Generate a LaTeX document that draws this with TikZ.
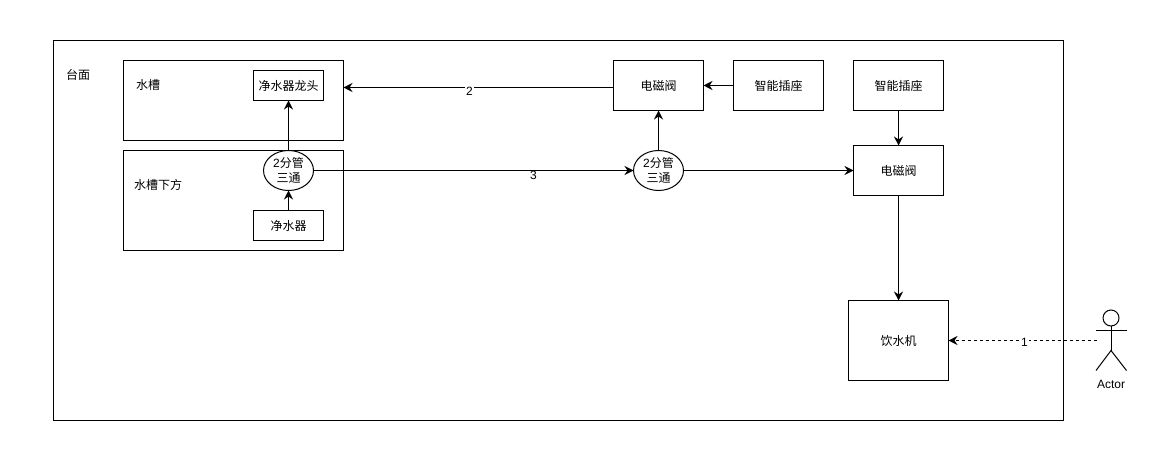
\documentclass[tikz,border=0pt]{standalone}
\usepackage{fontspec}
\setmainfont{Noto Sans CJK SC}
\newfontfamily\latinfont{Liberation Sans}
\usetikzlibrary{arrows.meta,positioning,calc,shapes.geometric}
\tikzset{
  every node/.style={font=\fontsize{12pt}{14pt}\selectfont, inner sep=0pt, outer sep=0pt},
  boxnode/.style={draw=black, line width=1pt, fill=white, anchor=north west, align=center},
  tee/.style={draw=black, line width=1pt, fill=white, ellipse, minimum width=50pt, minimum height=40pt, align=center},
  txt/.style={text=black},
  conn/.style={draw=black, line width=1pt, -{Stealth[length=9pt,width=9pt,inset=3pt]}},
  edgelabel/.style={fill=white, font=\latinfont\fontsize{12pt}{14pt}\selectfont, inner xsep=1pt, inner ysep=0pt},
  actorline/.style={draw=black, line width=1pt}
}
\begin{document}
\begin{tikzpicture}[x=1pt,y=-1pt]
\useasboundingbox (0,0) rectangle (1172,476);
\node[boxnode, minimum width=1010pt, minimum height=380pt] (table) at (53.5,40.5) {};
\node[txt] (tablelabel) at (78,75) {台面};
\node[boxnode, minimum width=220pt, minimum height=80pt] (sink) at (123.5,60.5) {};
\node[txt] (sinklabel) at (148,85) {水槽};
\node[boxnode, minimum width=70pt, minimum height=30pt] (faucet) at (253.5,70.5) {净水器龙头};
\node[boxnode, minimum width=220pt, minimum height=100pt] (under) at (123.5,150.5) {};
\node[txt] (underlabel) at (158,185) {水槽下方};
\node[boxnode, minimum width=70pt, minimum height=30pt] (purifier) at (253.5,210.5) {净水器};
\node[tee] (teea) at (288.5,170.5) {{\latinfont 2}分管\\[0.5pt]三通};
\node[tee] (teeb) at (658.5,170.5) {{\latinfont 2}分管\\[0.5pt]三通};
\node[boxnode, minimum width=90pt, minimum height=50pt] (valvea) at (613.5,60.5) {电磁阀};
\node[boxnode, minimum width=90pt, minimum height=50pt] (socketa) at (733.5,60.5) {智能插座};
\node[boxnode, minimum width=90pt, minimum height=50pt] (socketb) at (853.5,60.5) {智能插座};
\node[boxnode, minimum width=90pt, minimum height=50pt] (valveb) at (853.5,145.5) {电磁阀};
\node[boxnode, minimum width=100pt, minimum height=80pt] (dispenser) at (848.5,300.5) {饮水机};
% actor
\node[draw=black, line width=1pt, circle, minimum size=16pt] (head) at (1111,318) {};
\coordinate (hip) at (1111,350.5);
\coordinate (armL) at (1096,330.5);
\coordinate (armR) at (1126.5,330.5);
\coordinate (legL) at (1096,370.5);
\coordinate (legR) at (1126.5,370.5);
\coordinate (hand) at (1097,340.5);
\draw[actorline] (head.south) -- (hip);
\draw[actorline] (armL) -- (armR);
\draw[actorline] (legL) -- (hip) -- (legR);
\node[font=\latinfont\fontsize{12pt}{14pt}\selectfont] (actor) at (1111,384) {Actor};
% connectors
\draw[conn] (purifier.north) -- (teea.south);
\draw[conn] (teea.north) -- (faucet.south);
\draw[conn] (teea.east) -- (teeb.west);
\draw[conn] (teeb.east) -- (valveb.west);
\draw[conn] (teeb.north) -- (valvea.south);
\draw[conn] (socketa.west) -- (valvea.east);
\draw[conn] ([yshift=-2pt]valvea.west) -- ([yshift=13pt]sink.east);
\draw[conn] (socketb.south) -- (valveb.north);
\draw[conn] (valveb.south) -- (dispenser.north);
\draw[conn, dashed] (hand) -- (dispenser.east);
\node[edgelabel] (la) at (469.5,91) {2};
\node[edgelabel] (lb) at (533.5,175) {3};
\node[edgelabel] (lc) at (1024.5,342) {1};
\end{tikzpicture}
\end{document}
